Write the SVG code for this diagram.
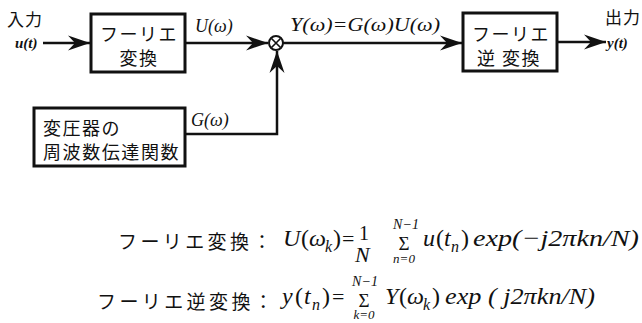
<svg xmlns="http://www.w3.org/2000/svg" width="642" height="323" viewBox="0 0 642 323">
<defs>
<style>
.box{fill:#fff;stroke:#111;stroke-width:3}
.ln{fill:none;stroke:#111;stroke-width:2.5}
.jp{font-family:"Noto Sans CJK JP","Noto Sans",sans-serif;font-size:18px;fill:#111;letter-spacing:1.5px}
.jf{font-family:"Noto Sans CJK JP","Noto Sans",sans-serif;font-size:19px;fill:#111;letter-spacing:3.4px}
.it{font-family:"Liberation Serif",serif;font-style:italic;fill:#111}
.rm{font-family:"Liberation Serif",serif;fill:#111}
.m{font-family:"Liberation Serif",serif;font-style:italic;font-size:24px;fill:#111}
.mu{font-family:"Liberation Serif",serif;font-size:24px;fill:#111}
.sub{font-family:"Liberation Serif",serif;font-style:italic;font-size:16px;fill:#111}
.lim{font-family:"Liberation Serif",serif;font-style:italic;font-size:14px;fill:#111;text-anchor:middle}
.sig{font-family:"Liberation Serif",serif;font-size:19px;fill:#111;text-anchor:middle}
</style>
<marker id="ah" viewBox="-23 -8 25 16" refX="0" refY="0" markerWidth="25" markerHeight="16" markerUnits="userSpaceOnUse" orient="auto">
<path d="M0,0 L-22,-7.5 L-15,0 L-22,7.5 Z" fill="#111"/>
</marker>
</defs>
<rect width="642" height="323" fill="#fff"/>

<g id="connectors">
<path class="ln" d="M43,43 L90,43" marker-end="url(#ah)"/>
<path class="ln" d="M185,43 L268,43" marker-end="url(#ah)"/>
<path class="ln" d="M185,134 L277,134 L277,51" marker-end="url(#ah)"/>
<path class="ln" d="M283,43 L462,43" marker-end="url(#ah)"/>
<path class="ln" d="M557,42 L606,42" marker-end="url(#ah)"/>
</g>

<g id="input">
<text class="jp" x="7" y="26" style="font-size:17px;letter-spacing:1px">入力</text>
<text class="it" x="15" y="48" style="font-size:15px;font-weight:bold">u(t)</text>
</g>

<g id="fourier">
<rect class="box" x="91" y="14" width="94" height="58"/>
<text class="jp" x="139" y="33" text-anchor="middle" dominant-baseline="central">フーリエ</text>
<text class="jp" x="139" y="57" text-anchor="middle" dominant-baseline="central">変換</text>
</g>

<text class="it" x="195" y="32" style="font-size:18px">U(ω)</text>

<g id="multiplier">
<circle cx="276" cy="43" r="7" fill="#fff" stroke="#111" stroke-width="2"/>
<path d="M271.5,38.5 L280.5,47.5 M280.5,38.5 L271.5,47.5" stroke="#111" stroke-width="1.6"/>
</g>

<text class="it" x="290" y="31" style="font-size:18px" textLength="150" lengthAdjust="spacingAndGlyphs">Y(ω)=G(ω)U(ω)</text>

<g id="transfer">
<rect class="box" x="34" y="108" width="151" height="58"/>
<text class="jp" x="43" y="127" dominant-baseline="central">変圧器の</text>
<text class="jp" x="43" y="151" dominant-baseline="central" textLength="137">周波数伝達関数</text>
</g>

<text class="it" x="191" y="126" style="font-size:18px">G(ω)</text>

<g id="inverse">
<rect class="box" x="463" y="13" width="94" height="58"/>
<text class="jp" x="511" y="33" text-anchor="middle" dominant-baseline="central">フーリエ</text>
<text class="jp" x="509" y="57" text-anchor="middle" dominant-baseline="central">逆 変換</text>
</g>

<g id="output">
<text class="jp" x="605" y="24" style="font-size:17px;letter-spacing:1px">出力</text>
<text class="it" x="607" y="48" style="font-size:15px;font-weight:bold">y(t)</text>
</g>

<g id="formula1">
<text class="jf" x="118" y="240" dominant-baseline="central">フーリエ変換：</text>
<text class="m" x="283" y="246">U</text>
<text class="mu" x="301" y="246">(</text>
<text class="m" x="309" y="246">ω</text>
<text class="sub" x="325" y="252">k</text>
<text class="mu" x="333" y="246">)</text>
<text class="mu" x="342" y="246" style="font-size:22px">=</text>
<text class="mu" x="359" y="240" style="font-size:20px">1</text>
<text class="m" x="355" y="262" style="font-size:22px">N</text>
<text class="lim" x="406" y="229">N−1</text>
<text class="sig" x="404" y="250">Σ</text>
<text class="lim" x="404" y="263" style="font-size:13px">n=0</text>
<text class="m" x="423" y="246">u</text>
<text class="mu" x="436" y="246">(</text>
<text class="m" x="444" y="246">t</text>
<text class="sub" x="451" y="252">n</text>
<text class="mu" x="461" y="246">)</text>
<text class="m" x="473" y="246" textLength="166" lengthAdjust="spacingAndGlyphs">exp(−j2πkn/N)</text>
</g>

<g id="formula2">
<text class="jf" x="97" y="300" dominant-baseline="central">フーリエ逆変換：</text>
<text class="m" x="282" y="304">y</text>
<text class="mu" x="295" y="304">(</text>
<text class="m" x="304" y="304">t</text>
<text class="sub" x="312" y="310">n</text>
<text class="mu" x="322" y="304">)</text>
<text class="mu" x="332" y="304" style="font-size:22px">=</text>
<text class="lim" x="365" y="286">N−1</text>
<text class="sig" x="364" y="307">Σ</text>
<text class="lim" x="364" y="319" style="font-size:13px">k=0</text>
<text class="m" x="385" y="304">Y</text>
<text class="mu" x="399" y="304">(</text>
<text class="m" x="407" y="304">ω</text>
<text class="sub" x="423" y="310">k</text>
<text class="mu" x="432" y="304">)</text>
<text class="m" x="445" y="304" textLength="150" lengthAdjust="spacingAndGlyphs">exp ( j2πkn/N)</text>
</g>
</svg>
